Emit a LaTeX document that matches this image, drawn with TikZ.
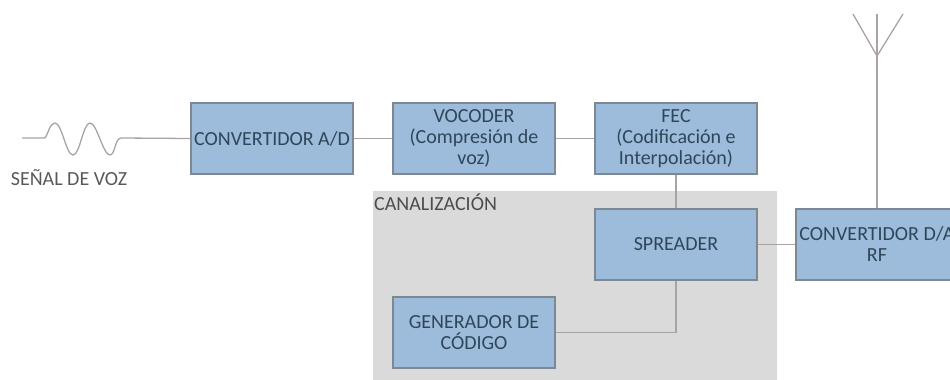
\documentclass[tikz,border=0pt]{standalone}
\usepackage{fontspec}
\setmainfont{Carlito}
\definecolor{boxfill}{HTML}{9DBBDA}
\definecolor{boxline}{HTML}{7E8894}
\definecolor{wire}{HTML}{A9A3A1}
\definecolor{boxtext}{HTML}{2E4659}
\definecolor{zone}{HTML}{DADADA}
\tikzset{
  block/.style={draw=boxline,line width=1.3pt,fill=boxfill,minimum width=162pt,minimum height=71pt,
    inner sep=0pt,align=center,text=boxtext,font=\fontsize{20}{21}\selectfont},
  wirel/.style={draw=wire,line width=1.3pt},
  plain/.style={inner sep=0pt,text=#1,font=\fontsize{20}{22}\selectfont},
}
\begin{document}
\begin{tikzpicture}[x=1pt,y=-1pt]
\useasboundingbox (0,0) rectangle (950,380);
\clip (0,0) rectangle (950,380);
\fill[zone] (373,191) rectangle (777,380);
\node[plain=black!70,anchor=west] (canal) at (374,202) {CANALIZACIÓN};
\node[block] (ad) at (272,138.5) {CONVERTIDOR A/D};
\node[block] (voc) at (474,138.5) {VOCODER\\(Compresión de\\voz)};
\node[block] (fec) at (676,138.5) {FEC\\(Codificación e\\Interpolación)};
\node[block] (spr) at (676,244.5) {SPREADER};
\node[block] (gen) at (474,332.5) {GENERADOR DE\\CÓDIGO};
\node[block] (da) at (877,244.5) {CONVERTIDOR D/A\\RF};
\node[plain=black!65] (label) at (69,178) {SEÑAL DE VOZ};
\coordinate (in) at (22,138);
\coordinate (wave) at (45,138);
\coordinate (waveend) at (121,138);
\coordinate (feed) at (877,56);
\coordinate (armL) at (853,14);
\coordinate (armR) at (903,14);
\coordinate (tip) at (877,14);
\draw[wirel,line join=round] (in) -- (wave)
  .. controls (48,134) and (50,123) .. (55,123)
  .. controls (62,123) and (66,155) .. (73,155)
  .. controls (80,155) and (83,123) .. (90,123)
  .. controls (97,123) and (103,155) .. (110,155)
  .. controls (115,155) and (115,138) .. (waveend) -- (ad.west);
\draw[wirel] (ad) -- (voc);
\draw[wirel] (voc) -- (fec);
\draw[wirel] (fec) -- (spr);
\draw[wirel] (spr) -- (da.west);
\draw[wirel] (gen.east) -| (spr.south);
\draw[wirel] (da.north) -- (tip);
\draw[wirel] (armL) -- (feed) -- (armR);
\end{tikzpicture}
\end{document}
